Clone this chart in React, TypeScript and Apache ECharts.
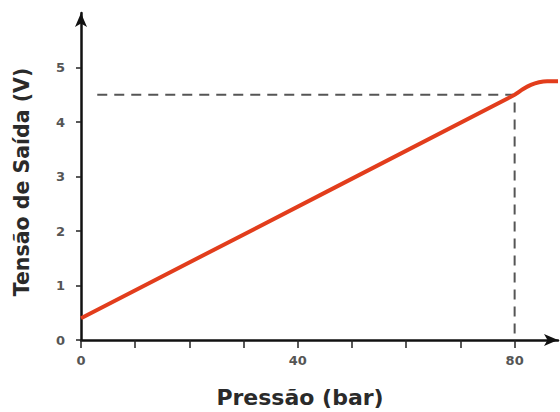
import React, { useEffect, useRef } from "react";
import * as echarts from "echarts";

const pressure = [0, 80, 81.5, 83, 84.5, 86, 88];
const voltage = [0.4, 4.5, 4.6, 4.68, 4.73, 4.75, 4.75];
const refX = [3, 80, 80];
const refY = [4.5, 4.5, 0];
const xTicks = [0, 10, 20, 30, 40, 50, 60, 70, 80];
const xLabels = [0, 40, 80];
const yTicks = [0, 1, 2, 3, 4, 5];

export default function App() {
  const ref = useRef<HTMLDivElement>(null);
  useEffect(() => {
    const chart = echarts.init(ref.current!, null, { renderer: "svg" });
    const font = "DejaVu Sans";
    chart.setOption({
      animation: false,
      backgroundColor: "#ffffff",
      grid: { left: 81, right: 2, top: 13, bottom: 72 },
      xAxis: {
        type: "value",
        min: 0,
        max: 88,
        axisLine: {
          show: true,
          onZero: false,
          symbol: ["none", "arrow"],
          symbolSize: [9, 14],
          lineStyle: { color: "#111", width: 2.5 },
        },
        axisTick: {
          show: true,
          inside: false,
          length: 8,
          customValues: xTicks,
          lineStyle: { color: "#222", width: 1.5 },
        },
        axisLabel: {
          customValues: xLabels,
          margin: 14,
          fontFamily: font,
          fontWeight: "bold",
          fontSize: 13,
          color: "#555",
        },
        splitLine: { show: false },
      },
      yAxis: {
        type: "value",
        min: 0,
        max: 6,
        axisLine: {
          show: true,
          onZero: false,
          symbol: ["none", "arrow"],
          symbolSize: [9, 14],
          lineStyle: { color: "#111", width: 2.5 },
        },
        axisTick: {
          show: true,
          length: 5,
          customValues: yTicks,
          lineStyle: { color: "#222", width: 1.5 },
        },
        axisLabel: {
          customValues: yTicks,
          margin: 16,
          fontFamily: font,
          fontWeight: "bold",
          fontSize: 13,
          color: "#555",
        },
        splitLine: { show: false },
      },
      graphic: [
        {
          type: "text",
          x: 300,
          y: 397,
          style: {
            text: "Pressão (bar)",
            fontFamily: font,
            fontWeight: "bold",
            fontSize: 22,
            fill: "#2a2a2a",
            align: "center",
            verticalAlign: "middle",
          },
        },
        {
          type: "text",
          x: 22,
          y: 182,
          rotation: Math.PI / 2,
          style: {
            text: "Tensão de Saída (V)",
            fontFamily: font,
            fontWeight: "bold",
            fontSize: 20.5,
            fill: "#2a2a2a",
            align: "center",
            verticalAlign: "middle",
          },
        },
      ],
      series: [
        {
          type: "line",
          data: refX.map((x, i) => [x, refY[i]]),
          showSymbol: false,
          lineStyle: { color: "#555", width: 2, type: [10, 7] },
          z: 1,
        },
        {
          type: "line",
          data: pressure.map((x, i) => [x, voltage[i]]),
          showSymbol: false,
          smooth: 0.3,
          lineStyle: { color: "#e23d1c", width: 4 },
          z: 2,
        },
      ],
    });
    return () => chart.dispose();
  }, []);
  return <div ref={ref} style={{ width: 560, height: 412, position: "absolute", left: 0, top: 0 }} />;
}
